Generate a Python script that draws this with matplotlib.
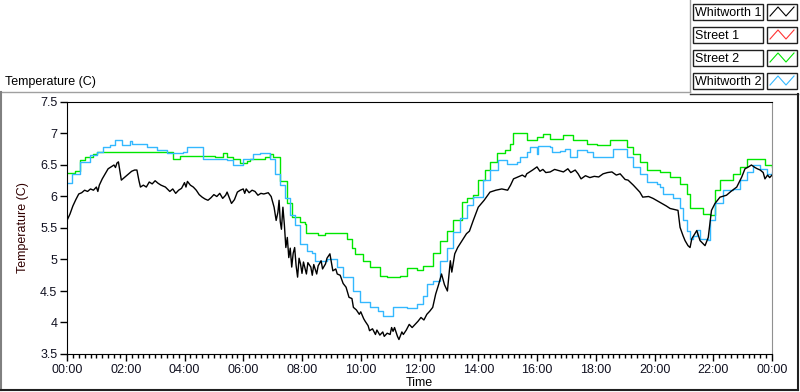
import matplotlib.pyplot as plt
from matplotlib.lines import Line2D
from matplotlib.patches import Rectangle

# time in hours since midnight, temperature in C
w1_t = [0.0, 0.1, 0.2, 0.3, 0.4, 0.5, 0.6, 0.7, 0.8, 0.9, 1.0, 1.05, 1.1, 1.2, 1.3, 1.4, 1.5, 1.6, 1.65, 1.7,
        1.75, 1.8, 1.85, 1.95, 2.05, 2.2, 2.3, 2.38, 2.45, 2.5, 2.6, 2.7, 2.8, 2.9, 3.0, 3.1, 3.2, 3.35, 3.5, 3.6,
        3.7, 3.8, 3.9, 4.0, 4.05, 4.1, 4.2, 4.3, 4.4, 4.5, 4.6, 4.7, 4.8, 4.9, 5.0, 5.1, 5.2, 5.3, 5.4, 5.45,
        5.55, 5.6, 5.7, 5.8, 5.9, 6.0, 6.05, 6.1, 6.2, 6.3, 6.4, 6.5, 6.6, 6.7, 6.85, 6.95, 7.05, 7.12, 7.18, 7.22,
        7.26, 7.3, 7.35, 7.4, 7.45, 7.5, 7.55, 7.6, 7.65, 7.7, 7.75, 7.8, 7.85, 7.9, 7.95, 8.0, 8.05, 8.15, 8.2, 8.3,
        8.35, 8.4, 8.5, 8.55, 8.65, 8.7, 8.8, 8.85, 8.95, 9.0, 9.05, 9.15, 9.2, 9.3, 9.4, 9.5, 9.55, 9.6, 9.7, 9.75,
        9.85, 9.95, 10.0, 10.1, 10.15, 10.25, 10.3, 10.4, 10.5, 10.55, 10.65, 10.75, 10.8, 10.9, 11.0, 11.05, 11.1,
        11.15, 11.25, 11.3, 11.4, 11.45, 11.55, 11.65, 11.75, 11.85, 11.95, 12.05, 12.15, 12.25, 12.35, 12.45,
        12.55, 12.65, 12.75, 12.85, 12.95, 13.05, 13.1, 13.2, 13.3, 13.45, 13.6, 13.7, 13.83, 14.0, 14.2, 14.4,
        14.6, 14.8, 15.0, 15.1, 15.2, 15.35, 15.5, 15.6, 15.65, 15.85, 16.0, 16.1, 16.2, 16.3, 16.45, 16.6, 16.75,
        16.9, 17.05, 17.15, 17.3, 17.4, 17.5, 17.65, 17.8, 17.95, 18.1, 18.25, 18.4, 18.55, 18.7, 18.83, 19.0,
        19.1, 19.28, 19.5, 19.6, 19.8, 19.95, 20.1, 20.25, 20.4, 20.53, 20.7, 20.8, 20.87, 20.97, 21.04, 21.14,
        21.21, 21.27, 21.44, 21.55, 21.72, 21.83, 21.94, 22.06, 22.23, 22.45, 22.6, 22.8, 22.97, 23.08, 23.2, 23.3,
        23.42, 23.5, 23.6, 23.7, 23.76, 23.85, 23.92, 24.0]
w1_v = [5.62, 5.72, 5.85, 5.95, 6.04, 6.06, 6.10, 6.08, 6.12, 6.10, 6.15, 6.08, 6.18, 6.28, 6.36, 6.44, 6.47, 6.50,
        6.46, 6.53, 6.55, 6.40, 6.26, 6.30, 6.34, 6.40, 6.42, 6.42, 6.25, 6.15, 6.18, 6.15, 6.23, 6.20, 6.25, 6.21,
        6.18, 6.15, 6.08, 6.12, 6.05, 6.10, 6.13, 6.22, 6.15, 6.24, 6.18, 6.15, 6.10, 6.03, 5.99, 5.96, 5.94, 5.98,
        6.03, 6.00, 6.05, 5.97, 6.02, 6.07, 5.95, 5.89, 5.95, 6.07, 6.10, 6.12, 6.05, 6.12, 6.06, 6.10, 6.08, 6.02,
        6.05, 6.04, 6.06, 6.00, 5.83, 5.62, 5.75, 5.94, 5.60, 5.48, 5.83, 5.55, 5.19, 5.35, 5.03, 5.18, 4.88, 5.10,
        5.19, 4.90, 4.72, 5.02, 4.93, 4.78, 4.96, 4.77, 4.95, 4.88, 4.75, 4.92, 4.77, 4.90, 4.98, 4.85, 4.93, 5.02,
        5.09, 4.95, 4.82, 4.85, 4.77, 4.75, 4.62, 4.56, 4.48, 4.40, 4.38, 4.24, 4.20, 4.13, 4.17, 4.06, 4.02, 3.95,
        3.87, 3.90, 3.81, 3.88, 3.80, 3.85, 3.78, 3.83, 3.81, 3.92, 3.86, 3.92, 3.78, 3.73, 3.85, 3.81, 3.88, 3.97,
        3.92, 3.97, 4.02, 4.08, 4.04, 4.13, 4.18, 4.24, 4.45, 4.60, 4.77, 4.60, 4.50, 4.98, 4.80, 5.09, 5.19, 5.30,
        5.41, 5.45, 5.62, 5.83, 5.94, 6.07, 6.10, 6.12, 6.10, 6.18, 6.28, 6.31, 6.34, 6.31, 6.36, 6.42, 6.47, 6.40,
        6.43, 6.38, 6.39, 6.43, 6.41, 6.39, 6.44, 6.38, 6.42, 6.36, 6.28, 6.33, 6.30, 6.32, 6.31, 6.36, 6.38, 6.39,
        6.34, 6.36, 6.27, 6.26, 6.18, 6.07, 5.99, 6.00, 5.97, 5.93, 5.89, 5.85, 5.81, 5.79, 5.78, 5.51, 5.38, 5.30,
        5.22, 5.19, 5.33, 5.46, 5.30, 5.22, 5.35, 5.78, 5.89, 5.99, 6.02, 6.08, 6.15, 6.31, 6.44, 6.47, 6.50, 6.46,
        6.44, 6.42, 6.38, 6.28, 6.34, 6.30, 6.34]

s2_t = [0.0, 0.27, 0.44, 0.61, 0.9, 1.01, 3.17, 3.61, 3.85, 4.53, 5.04, 5.31, 5.45, 5.65, 5.89, 6.13, 6.23, 6.74,
        6.91, 7.01, 7.25, 7.49, 7.65, 7.93, 8.1, 8.13, 8.54, 8.78, 9.23, 9.52, 9.69, 9.8, 10.09, 10.31, 10.66, 10.88,
        11.11, 11.34, 11.56, 11.9, 12.13, 12.47, 12.7, 12.93, 13.15, 13.44, 13.61, 13.83, 14.0, 14.23, 14.4, 14.63,
        14.91, 15.08, 15.19, 15.53, 15.65, 15.99, 16.21, 16.44, 16.9, 17.24, 17.69, 18.03, 18.49, 18.94, 19.05,
        19.28, 19.51, 19.73, 20.19, 20.53, 20.87, 21.1, 21.21, 21.61, 21.66, 21.89, 22.06, 22.23, 22.68, 22.91,
        23.14, 23.7, 23.76, 24.0]
s2_v = [6.38, 6.40, 6.58, 6.62, 6.68, 6.70, 6.70, 6.60, 6.64, 6.64, 6.62, 6.69, 6.62, 6.60, 6.53, 6.56, 6.60, 6.62,
        6.68, 6.62, 6.25, 5.90, 5.67, 5.59, 5.57, 5.42, 5.39, 5.42, 5.42, 5.33, 5.19, 5.09, 4.98, 4.88, 4.74, 4.72,
        4.72, 4.74, 4.87, 4.83, 4.90, 5.11, 5.30, 5.46, 5.62, 5.91, 5.97, 6.02, 6.26, 6.42, 6.55, 6.69, 6.74, 6.84,
        7.00, 7.00, 6.89, 6.95, 6.99, 6.92, 6.97, 6.89, 6.84, 6.81, 6.89, 6.89, 6.79, 6.68, 6.55, 6.42, 6.39, 6.31,
        6.20, 6.04, 5.81, 5.81, 5.73, 5.70, 6.10, 6.26, 6.36, 6.47, 6.60, 6.60, 6.50, 6.47]

w2_t = [0.0, 0.16, 0.44, 0.78, 1.01, 1.24, 1.46, 1.63, 1.8, 1.86, 2.14, 2.2, 2.71, 3.05, 3.39, 3.96, 4.07, 4.42,
        4.64, 4.98, 5.44, 5.66, 6.0, 6.34, 6.57, 6.91, 7.08, 7.25, 7.42, 7.59, 7.76, 7.93, 8.16, 8.33, 8.44, 8.84,
        9.18, 9.41, 9.75, 9.97, 10.31, 10.6, 10.77, 10.94, 11.11, 11.56, 11.9, 12.13, 12.25, 12.47, 12.7, 12.93,
        13.15, 13.38, 13.61, 13.83, 14.17, 14.4, 14.68, 14.97, 15.31, 15.42, 15.65, 15.76, 15.99, 16.04, 16.44,
        16.5, 16.78, 16.95, 17.12, 17.35, 17.69, 17.92, 18.37, 18.6, 18.83, 19.05, 19.28, 19.51, 19.73, 20.07,
        20.19, 20.3, 20.64, 20.87, 20.98, 21.1, 21.21, 21.32, 21.44, 21.55, 21.83, 21.89, 22.06, 22.34, 22.68,
        22.91, 23.14, 23.36, 23.59, 23.82, 24.0]
w2_v = [6.21, 6.36, 6.55, 6.66, 6.70, 6.79, 6.81, 6.89, 6.89, 6.81, 6.88, 6.83, 6.79, 6.74, 6.69, 6.71, 6.79, 6.79,
        6.60, 6.60, 6.58, 6.50, 6.60, 6.68, 6.69, 6.60, 6.36, 6.18, 5.98, 5.70, 5.54, 5.25, 5.14, 5.11, 4.98, 5.01,
        4.88, 4.72, 4.50, 4.32, 4.24, 4.19, 4.11, 4.11, 4.24, 4.23, 4.29, 4.42, 4.61, 4.66, 4.98, 5.19, 5.43, 5.66,
        5.86, 5.99, 6.26, 6.42, 6.58, 6.52, 6.55, 6.63, 6.71, 6.79, 6.68, 6.80, 6.79, 6.71, 6.72, 6.76, 6.63, 6.74,
        6.71, 6.63, 6.63, 6.75, 6.76, 6.63, 6.47, 6.36, 6.23, 6.20, 6.15, 6.04, 5.97, 5.81, 5.62, 5.46, 5.33, 5.38,
        5.47, 5.33, 5.31, 5.62, 5.89, 6.10, 6.12, 6.26, 6.39, 6.50, 6.44, 6.36, 6.39]

# Street 1 has no visible trace in the chart
s1_t = []
s1_v = []

series_names = ['Whitworth 1', 'Street 1', 'Street 2', 'Whitworth 2']
series_colors = ['#000000', '#ff3333', '#00e600', '#33b8ff']
x_ticks = list(range(0, 25, 2))
x_labels = ['%02d:00' % (h % 24) for h in x_ticks]
y_ticks = [3.5, 4, 4.5, 5, 5.5, 6, 6.5, 7, 7.5]
y_labels = ['3.5', '4', '4.5', '5', '5.5', '6', '6.5', '7', '7.5']

plt.rcParams['font.family'] = ['Liberation Sans', 'DejaVu Sans']
fs = 9
W, H = 800, 392
fig = plt.figure(figsize=(W / 100, H / 100), dpi=100)
fig.patch.set_facecolor('white')

ax = fig.add_axes([67 / W, (H - 354) / H, (772 - 67) / W, (354 - 102) / H])
lw = 1.0
ax.plot(s2_t, s2_v, color=series_colors[2], lw=lw, drawstyle='steps-post')
ax.plot(w2_t, w2_v, color=series_colors[3], lw=lw, drawstyle='steps-post')
ax.plot(w1_t, w1_v, color=series_colors[0], lw=lw)
if s1_t:
    ax.plot(s1_t, s1_v, color=series_colors[1], lw=lw)

ax.set_xlim(0, 24)
ax.set_ylim(3.5, 7.5)
ax.set_xticks(x_ticks)
ax.set_xticklabels(x_labels)
ax.set_xticks([i * 0.2 for i in range(121)], minor=True)
ax.set_yticks(y_ticks)
ax.set_yticklabels(y_labels)
ax.tick_params(axis='both', which='major', direction='out', length=5, width=1, labelsize=fs, pad=2,
               labelcolor='#101020')
ax.tick_params(axis='x', which='minor', direction='out', length=3, width=1)
ax.spines['right'].set_color('#909090')
for s in ['left', 'bottom', 'top']:
    ax.spines[s].set_color('black')
ax.set_xlabel('Time', fontsize=fs, labelpad=1)
ax.set_ylabel('Temperature (C)', fontsize=fs, color='#300000', labelpad=8)

# overlay in pixel coordinates for the frame and legend
ov = fig.add_axes([0, 0, 1, 1], zorder=-1)
ov.set_xlim(0, W)
ov.set_ylim(H, 0)
ov.axis('off')
ov.plot([0.5, 690], [92, 92], color='#a0a0a0', lw=1)
ov.plot([690, 690], [0, 92], color='#a0a0a0', lw=1)
ov.plot([690, 798], [94, 94], color='#303030', lw=1)
ov.plot([0.5, 0.5], [92, 390], color='#808080', lw=1.5)
ov.plot([0, 798], [390, 390], color='#202020', lw=1.5)
ov.plot([798, 798], [94, 390], color='#202020', lw=1.5)
ov.text(5, 82, 'Temperature (C)', fontsize=fs, va='center', ha='left')

lg = fig.add_axes([0, 0, 1, 1])
lg.set_xlim(0, W)
lg.set_ylim(H, 0)
lg.axis('off')
for i, (name, col) in enumerate(zip(series_names, series_colors)):
    top = 4 + i * 23
    lg.add_patch(Rectangle((693, top), 70, 16, fill=False, ec='#202020', lw=1))
    lg.add_patch(Rectangle((767, top), 30, 16, fill=False, ec='#202020', lw=1))
    lg.text(695, top + 8.5, name, fontsize=fs, va='center', ha='left')
    lg.add_line(Line2D([770, 778, 786, 794], [top + 12, top + 3, top + 12, top + 3], color=col, lw=0.8))

fig.savefig('out.png', dpi=100)
